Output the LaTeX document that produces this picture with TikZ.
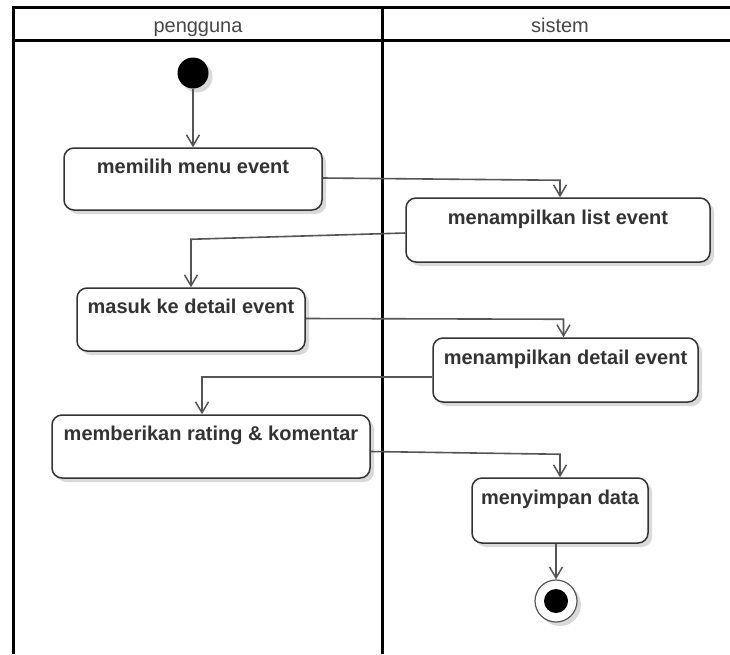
\documentclass[tikz,border=0pt]{standalone}
\usepackage{fontspec}
\setmainfont{Liberation Sans}
\usetikzlibrary{arrows.meta,shadows}
\definecolor{linegray}{HTML}{555555}
\definecolor{textgray}{HTML}{333333}
\tikzset{
  act/.style={draw=textgray, line width=1.5pt, rounded corners=10pt, fill=white,
    font=\fontsize{20}{24}\selectfont\bfseries, text=textgray,
    text height=15pt, text depth=27pt, inner xsep=4pt, inner ysep=10pt,
    drop shadow={shadow xshift=4pt, shadow yshift=-4pt, opacity=0.15, fill=black}},
  flow/.style={draw=linegray, line width=1.6pt, -{Straight Barb[length=11pt,width=13pt,line width=1.5pt]}},
  lane/.style={line width=3pt},
  lanehead/.style={font=\fontsize{20}{24}\selectfont, text=textgray!90, anchor=base},
  startnode/.style={circle, fill=black, minimum size=31pt, inner sep=0pt,
    drop shadow={shadow xshift=4pt, shadow yshift=-4pt, opacity=0.15, fill=black}},
  stopnode/.style={circle, draw=linegray, line width=1.2pt, fill=white, minimum size=42pt, inner sep=0pt,
    drop shadow={shadow xshift=4pt, shadow yshift=-4pt, opacity=0.15, fill=black},
    path picture={\fill[black] (path picture bounding box.center) circle (12pt);}}
}
\begin{document}
\begin{tikzpicture}[x=1pt, y=-1pt]
	\useasboundingbox (0,0) rectangle (730,654);
	% swimlanes
	\draw[lane] (13,654) |- (730,7);
	\draw[lane] (13,40) -- (730,40);
	\draw[lane] (382,7) -- (382,654);
	\node[lanehead] (hpengguna) at (198,32) {pengguna};
	\node[lanehead] (hsistem) at (560,32) {sistem};
	% activities
	\node[startnode] (start) at (193,73) {};
	\node[act, minimum width=258pt, minimum height=62pt] (memilih) at (193,179) {memilih menu event};
	\node[act, minimum width=304pt, minimum height=64pt] (list) at (558,230) {menampilkan list event};
	\node[act, minimum width=228pt, minimum height=63pt] (masuk) at (191,319.5) {masuk ke detail event};
	\node[act, minimum width=265pt, minimum height=64pt] (detail) at (565.5,370) {menampilkan detail event};
	\node[act, minimum width=318pt, minimum height=63pt] (rating) at (211,446.5) {memberikan rating \& komentar};
	\node[act, minimum width=176pt, minimum height=65pt] (simpan) at (560,510.5) {menyimpan data};
	\node[stopnode] (stop) at (556,601) {};
	% flows
	\draw[flow] (start) -- (memilih);
	\draw[flow] ([yshift=1pt]memilih.east) -- ([xshift=2pt,yshift=17pt]list.north) -- ([xshift=2pt]list.north);
	\draw[flow] ([yshift=-3pt]list.west) -- ([yshift=48pt]masuk.north) -- (masuk.north);
	\draw[flow] ([yshift=1pt]masuk.east) -- ([xshift=-2pt,yshift=18pt]detail.north) -- ([xshift=-2pt]detail.north);
	\draw[flow] ([yshift=-7pt]detail.west) -| ([xshift=-9pt]rating.north);
	\draw[flow] ([yshift=-5pt]rating.east) -- ([yshift=23pt]simpan.north) -- (simpan.north);
	\draw[flow] (simpan.south -| stop) -- (stop);
\end{tikzpicture}
\end{document}
